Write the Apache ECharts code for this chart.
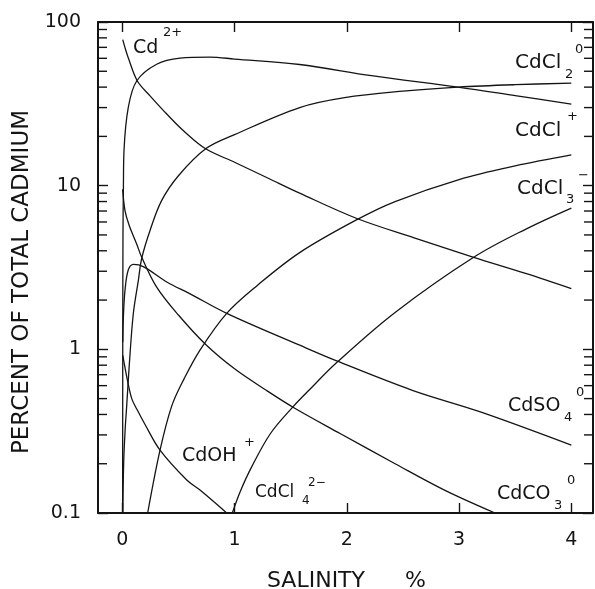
<!DOCTYPE html>
<html><head><meta charset="utf-8">
<script src="https://cdn.jsdelivr.net/npm/echarts@6/dist/echarts.min.js"></script>
<style>html,body{margin:0;padding:0;background:#fff}#c{width:595px;height:589px}</style>
</head><body><div id="c"></div>
<script>
// ---- axis ticks ----
const xTicks = [0, 1, 2, 3, 4];
const yMinorTicks = [0.2,0.3,0.4,0.5,0.6,0.7,0.8,0.9, 2,3,4,5,6,7,8,9, 20,30,40,50,60,70,80,90];

// ---- series (salinity %, percent of total cadmium) ----
const salCd2 = [0.004, 0.024, 0.053, 0.134, 0.247, 0.396, 0.55, 0.743, 1.0, 1.3, 1.58, 2.09, 2.6, 3.13, 3.6, 4.0];
const pctCd2 = [78, 69.7, 60.5, 43.6, 35.4, 27.4, 21.5, 16.8, 13.9, 11.1, 9.0, 6.3, 4.8, 3.65, 2.9, 2.35];

const salCdCl = [0.003, 0.004, 0.006, 0.01, 0.015, 0.053, 0.128, 0.306, 0.514, 0.78, 1.0, 1.58, 2.22, 2.99, 3.5, 4.0];
const pctCdCl = [0.1, 1.0, 5.0, 10, 16.3, 30, 43.6, 55.2, 60.1, 61, 59.4, 55, 47, 40, 35.5, 31.5];

const salCdCl2 = [0.004, 0.012, 0.025, 0.039, 0.062, 0.098, 0.143, 0.173, 0.25, 0.35, 0.5, 0.743, 1.0, 1.58, 1.98, 2.5, 2.99, 3.5, 4.0];
const pctCdCl2 = [0.1, 0.2, 0.32, 0.45, 0.8, 1.65, 2.64, 3.6, 5.4, 8.1, 11.5, 16.8, 20.5, 30, 34.5, 37.8, 40, 41.4, 42.3];

const salCdCl3 = [0.226, 0.336, 0.44, 0.55, 0.692, 0.93, 1.2, 1.58, 2.09, 2.43, 3.0, 3.5, 4.0];
const pctCdCl3 = [0.1, 0.242, 0.45, 0.66, 0.99, 1.66, 2.45, 3.9, 6.2, 8.0, 10.9, 13.2, 15.4];

const salCdCl4 = [0.98, 1.05, 1.15, 1.32, 1.52, 1.66, 1.91, 2.43, 3.13, 3.6, 4.0];
const pctCdCl4 = [0.1, 0.135, 0.19, 0.306, 0.445, 0.56, 0.83, 1.68, 3.65, 5.45, 7.3];

const salCdSO4 = [0.004, 0.01, 0.024, 0.053, 0.1, 0.187, 0.4, 0.6, 0.93, 1.58, 1.91, 2.59, 3.19, 4.0];
const pctCdSO4 = [1.11, 1.6, 2.29, 3.05, 3.3, 3.2, 2.57, 2.19, 1.66, 1.06, 0.85, 0.56, 0.415, 0.26];

const salCdCO3 = [0.003, 0.024, 0.06, 0.128, 0.173, 0.306, 0.5, 0.743, 1.0, 1.286, 1.54, 1.94, 2.43, 2.87, 3.32];
const pctCdCO3 = [9.5, 7.05, 5.75, 4.4, 3.65, 2.4, 1.62, 1.07, 0.76, 0.56, 0.435, 0.306, 0.2, 0.138, 0.1];

const salCdOH = [0.004, 0.02, 0.045, 0.084, 0.13, 0.2, 0.336, 0.574, 0.692, 0.93];
const pctCdOH = [0.92, 0.8, 0.65, 0.5, 0.43, 0.35, 0.242, 0.159, 0.138, 0.1];

const species = [
  ['Cd2+', salCd2, pctCd2],
  ['CdCl+', salCdCl, pctCdCl],
  ['CdCl2', salCdCl2, pctCdCl2],
  ['CdCl3-', salCdCl3, pctCdCl3],
  ['CdCl4 2-', salCdCl4, pctCdCl4],
  ['CdSO4', salCdSO4, pctCdSO4],
  ['CdCO3', salCdCO3, pctCdCO3],
  ['CdOH+', salCdOH, pctCdOH]
];

const FONT = "'DejaVu Sans', sans-serif";
const INK = '#141414';

const chart = echarts.init(document.getElementById('c'), null, {renderer: 'canvas'});

const lineSeries = species.map(([name, xs, ys]) => ({
  name, type: 'line', xAxisIndex: 0, yAxisIndex: 0,
  data: xs.map((x, i) => [x, ys[i]]),
  showSymbol: false, symbol: 'none',
  smooth: 0.35,
  lineStyle: {color: INK, width: 1.3},
  animation: false, silent: true
}));

const minorTickSeries = {
  type: 'custom', xAxisIndex: 0, yAxisIndex: 0, silent: true, animation: false,
  data: yMinorTicks.map(v => [0, v]),
  renderItem(params, api) {
    const p = api.coord([api.value(0), api.value(1)]);
    const cs = params.coordSys;
    const L = cs.x, R = cs.x + cs.width;
    const st = {stroke: INK, lineWidth: 1.4};
    return {type: 'group', children: [
      {type: 'line', shape: {x1: L, y1: p[1], x2: L + 9, y2: p[1]}, style: st},
      {type: 'line', shape: {x1: R - 9, y1: p[1], x2: R, y2: p[1]}, style: st}
    ]};
  }
};

function txt(text, x, y, size, extra) {
  return Object.assign({
    type: 'text', x, y, silent: true,
    style: {text, font: size + 'px ' + FONT, fill: INK, textAlign: 'left', textVerticalAlign: 'middle'}
  }, extra || {});
}

const labels = [
  txt('Cd', 133, 48, 19), txt('2+', 163, 33, 13),
  txt('CdCl', 515, 63, 20), txt('2', 565, 75, 13), txt('0', 575, 50, 13),
  txt('CdCl', 515, 131, 20), txt('+', 567, 117, 13),
  txt('CdCl', 517, 189, 20), txt('3', 566, 200, 13), txt('\u2212', 578, 176, 13),
  txt('CdSO', 508, 406, 19), txt('4', 564, 418, 13), txt('0', 576, 393, 13),
  txt('CdCO', 497, 494, 19), txt('3', 554, 506, 13), txt('0', 567, 481, 13),
  txt('CdOH', 182, 456, 19), txt('+', 244, 443, 13),
  txt('CdCl', 255, 493, 17), txt('4', 302, 501, 12), txt('2\u2212', 308, 483, 12),
  txt('SALINITY', 267, 581, 22), txt('%', 405, 581, 22),
  {type: 'text', x: 22, y: 282, rotation: Math.PI / 2, silent: true,
   style: {text: 'PERCENT OF TOTAL CADMIUM', font: '23px ' + FONT, fill: INK, textAlign: 'center', textVerticalAlign: 'middle'}}
];

const axisLineStyle = {color: INK, width: 2};
const xCommon = {
  type: 'value', min: -0.2165, max: 4.193,
  axisLine: {show: true, onZero: false, lineStyle: axisLineStyle},
  splitLine: {show: false}
};
const yCommon = {
  type: 'log', logBase: 10, min: 0.1, max: 100,
  axisLine: {show: true, onZero: false, lineStyle: axisLineStyle},
  splitLine: {show: false}, minorTick: {show: false}
};

chart.setOption({
  animation: false,
  backgroundColor: '#fff',
  grid: {left: 98, right: 2, top: 22, bottom: 76, containLabel: false},
  xAxis: [
    Object.assign({}, xCommon, {
      position: 'bottom',
      axisTick: {show: true, inside: true, length: 10, customValues: xTicks, lineStyle: {color: INK, width: 1.4}},
      axisLabel: {show: true, customValues: xTicks, margin: 18, color: INK, fontSize: 19, fontFamily: FONT, formatter: v => String(v)}
    }),
    Object.assign({}, xCommon, {
      position: 'top',
      axisTick: {show: true, inside: true, length: 10, customValues: xTicks, lineStyle: {color: INK, width: 1.4}},
      axisLabel: {show: false}
    })
  ],
  yAxis: [
    Object.assign({}, yCommon, {
      position: 'left',
      axisTick: {show: true, inside: true, length: 10, lineStyle: {color: INK, width: 1.4}},
      axisLabel: {show: true, margin: 17, color: INK, fontSize: 19, fontFamily: FONT, formatter: v => String(+(+v).toPrecision(3))}
    }),
    Object.assign({}, yCommon, {
      position: 'right',
      axisTick: {show: true, inside: true, length: 10, lineStyle: {color: INK, width: 1.4}},
      axisLabel: {show: false}
    })
  ],
  series: lineSeries.concat([minorTickSeries]),
  graphic: labels
});
</script>
</body></html>
